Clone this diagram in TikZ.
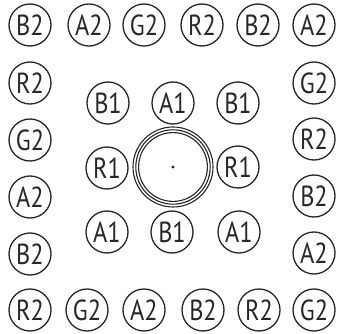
\documentclass[tikz,border=0pt]{standalone}
\usepackage{fontspec}
\setmainfont{PT Sans}[FakeStretch=0.84]
\definecolor{ink}{HTML}{262626}
\begin{document}
\begin{tikzpicture}[x=1pt,y=-1pt,
  lab/.style={circle,draw=ink,text=ink,line width=1.3pt,minimum size=42pt,inner sep=0pt,font=\fontsize{29}{29}\selectfont},
  ring/.style={draw=ink,line width=1.1pt}]
\useasboundingbox (0,0) rectangle (337,334);
% top row
\node[lab] (t1) at (30,25) {B2};
\node[lab] (t2) at (89,25) {A2};
\node[lab] (t3) at (144,25) {G2};
\node[lab] (t4) at (202,25) {R2};
\node[lab] (t5) at (258,25) {B2};
\node[lab] (t6) at (314,25) {A2};
% left column
\node[lab] (l1) at (30,83) {R2};
\node[lab] (l2) at (30,140) {G2};
\node[lab] (l3) at (30,197) {A2};
\node[lab] (l4) at (30,254) {B2};
% right column
\node[lab] (r1) at (314,83) {G2};
\node[lab] (r2) at (314,139) {R2};
\node[lab] (r3) at (314,196) {B2};
\node[lab] (r4) at (314,253) {A2};
% bottom row
\node[lab] (b1) at (30,310) {R2};
\node[lab] (b2) at (87,310) {G2};
\node[lab] (b3) at (144,310) {A2};
\node[lab] (b4) at (203,310) {B2};
\node[lab] (b5) at (259,310) {R2};
\node[lab] (b6) at (314,310) {G2};
% inner ring
\node[lab] (i1) at (108,103) {B1};
\node[lab] (i2) at (173,103) {A1};
\node[lab] (i3) at (238,103) {B1};
\node[lab] (i4) at (107,168) {R1};
\node[lab] (i5) at (238,167) {R1};
\node[lab] (i6) at (107,232) {A1};
\node[lab] (i7) at (172,232) {B1};
\node[lab] (i8) at (239,232) {A1};
% centre
\coordinate (c) at (173,167);
\draw[ring] (c) circle[radius=40];
\draw[ring] (c) circle[radius=37.2];
\draw[ring] (c) circle[radius=34.4];
\fill[ink] (c) circle[radius=1.7];
\end{tikzpicture}
\end{document}
